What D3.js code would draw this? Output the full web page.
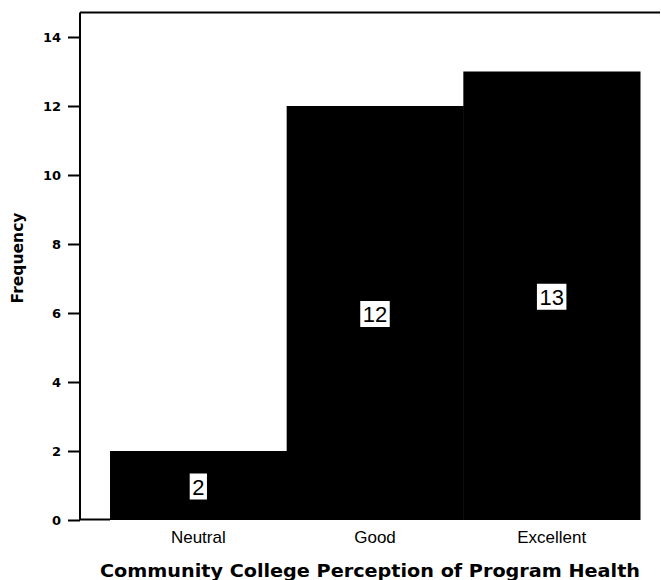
<!DOCTYPE html>
<html><head><meta charset="utf-8">
<script src="https://cdn.jsdelivr.net/npm/d3@7"></script>
<style>body{margin:0;background:#fff;}svg{display:block;font-family:"Liberation Sans",Arial,sans-serif;}</style>
</head><body>
<svg id="c" width="661" height="580"></svg>
<script>
const categories = ["Neutral", "Good", "Excellent"];
const frequencies = [2, 12, 13];
const yTicks = [0, 2, 4, 6, 8, 10, 12, 14];

(function () {
const svg = d3.select("#c");
const x = d3.scaleBand().domain(categories).range([110, 640]).paddingInner(0).paddingOuter(0);
const y = d3.scaleLinear().domain([0, 14]).range([520, 37]);
const frameTop = 12.5, frameLeft = 80, frameRight = 660;
const heavy = "DejaVu Sans, Liberation Sans, Arial, sans-serif";
const plain = "Liberation Sans, Arial, sans-serif";

// frame
svg.append("line").attr("x1", frameLeft).attr("x2", frameRight).attr("y1", frameTop).attr("y2", frameTop)
  .attr("stroke", "#000").attr("stroke-width", 2);
svg.append("line").attr("x1", frameLeft).attr("x2", frameLeft).attr("y1", frameTop).attr("y2", 520)
  .attr("stroke", "#000").attr("stroke-width", 2);
svg.append("line").attr("x1", frameLeft).attr("x2", x.range()[0]).attr("y1", 519.5).attr("y2", 519.5)
  .attr("stroke", "#000").attr("stroke-width", 2);

// bars
svg.selectAll("rect.bar").data(categories).join("rect").attr("class", "bar")
  .attr("x", d => x(d)).attr("width", x.bandwidth() + 0.5)
  .attr("y", (d, i) => y(frequencies[i])).attr("height", (d, i) => y(0) - y(frequencies[i]))
  .attr("fill", "#000");

// y axis
const yAxis = d3.axisLeft(y).tickValues(yTicks).tickSize(12).tickPadding(7).tickFormat(d3.format("d"));
const ga = svg.append("g").attr("transform", `translate(${frameLeft},0)`).call(yAxis);
ga.select(".domain").remove();
ga.selectAll(".tick line").attr("stroke-width", 2);
ga.selectAll(".tick text").attr("font-size", 13).attr("font-weight", "bold")
  .attr("font-family", heavy).attr("fill", "#000");

// x labels
const xAxis = d3.axisBottom(x).tickSize(0).tickPadding(11);
const gx = svg.append("g").attr("transform", "translate(0,520)").call(xAxis);
gx.select(".domain").remove();
gx.selectAll(".tick text").attr("font-size", 17)
  .attr("font-family", plain).attr("fill", "#000");

// value labels
const lab = svg.append("g");
categories.forEach((c, i) => {
  const cx = x(c) + x.bandwidth() / 2;
  const cy = (y(frequencies[i]) + y(0)) / 2 + 1;
  const t = lab.append("text").attr("x", cx).attr("y", cy + 8).attr("text-anchor", "middle")
    .attr("font-size", 22)
    .attr("font-family", plain).text(frequencies[i]);
  const bb = t.node().getBBox();
  lab.insert("rect", "text").attr("x", bb.x - 2.5).attr("y", cy - 13).attr("width", bb.width + 5)
    .attr("height", 26).attr("fill", "#fff");
});

// axis titles
svg.append("text").attr("x", 370).attr("y", 577).attr("text-anchor", "middle")
  .attr("font-size", 18).attr("font-weight", "bold").attr("font-family", heavy)
  .attr("textLength", 540).attr("lengthAdjust", "spacingAndGlyphs")
  .text("Community College Perception of Program Health");
svg.append("text").attr("transform", "translate(23,258) rotate(-90)").attr("text-anchor", "middle")
  .attr("font-size", 16).attr("font-weight", "bold").attr("font-family", heavy)
  .attr("textLength", 91).attr("lengthAdjust", "spacingAndGlyphs").text("Frequency");
})();
</script>
</body></html>
